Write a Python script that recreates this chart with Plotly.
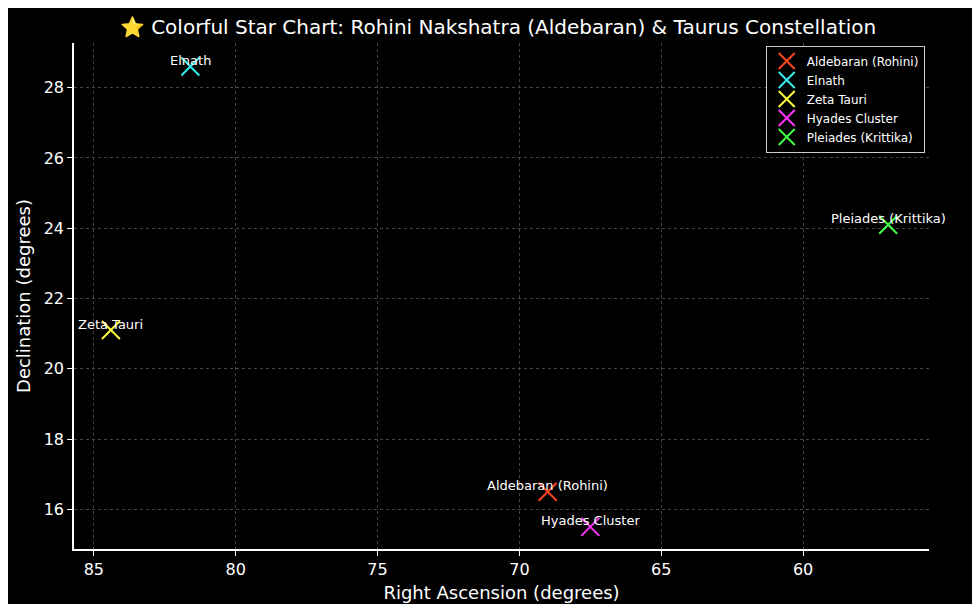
import plotly.graph_objects as go

names = ["Aldebaran (Rohini)", "Elnath", "Zeta Tauri", "Hyades Cluster", "Pleiades (Krittika)"]
ra = [69.0, 81.6, 84.4, 67.5, 57.0]
dec = [16.5, 28.6, 21.1, 15.5, 24.1]
colors = ["#ff4422", "#33eeee", "#ffff33", "#ff33ff", "#44ff44"]

fig = go.Figure()
for n, x, y, c in zip(names, ra, dec, colors):
    fig.add_trace(go.Scatter(
        x=[x], y=[y], name=n, mode="markers",
        marker=dict(symbol="x-thin-open", size=18, color=c, line=dict(color=c, width=2)),
    ))
    fig.add_annotation(x=x, y=y, text=n, showarrow=False, yshift=6,
                       font=dict(color="white", size=13))

axis = dict(
    showgrid=True, gridcolor="#444", griddash="3px,3px", gridwidth=1,
    zeroline=False, showline=True, linecolor="white", linewidth=1.5,
    ticks="outside", tickcolor="white", ticklen=5,
    tickfont=dict(size=16, color="white"), mirror=False,
)
fig.update_xaxes(axis, range=[85.7, 55.56], dtick=5,
                 title=dict(text="Right Ascension (degrees)", font=dict(size=18, color="white"), standoff=8))
fig.update_yaxes(axis, range=[14.87, 29.27], dtick=2,
                 title=dict(text="Declination (degrees)", font=dict(size=18, color="white"), standoff=8))

fig.update_layout(
    width=980, height=604,
    paper_bgcolor="black", plot_bgcolor="black",
    font=dict(family="DejaVu Sans", color="white"),
    title=dict(text="\u2b50 Colorful Star Chart: Rohini Nakshatra (Aldebaran) & Taurus Constellation",
               x=0.5, xanchor="center", y=0.98, font=dict(size=20, color="white")),
    margin=dict(l=66, r=59, t=35, b=59),
    legend=dict(x=0.995, y=0.995, xanchor="right", yanchor="top",
                bgcolor="black", bordercolor="#ccc", borderwidth=1,
                font=dict(size=12, color="white"), tracegroupgap=0),
)

fig.write_html("out.html")
